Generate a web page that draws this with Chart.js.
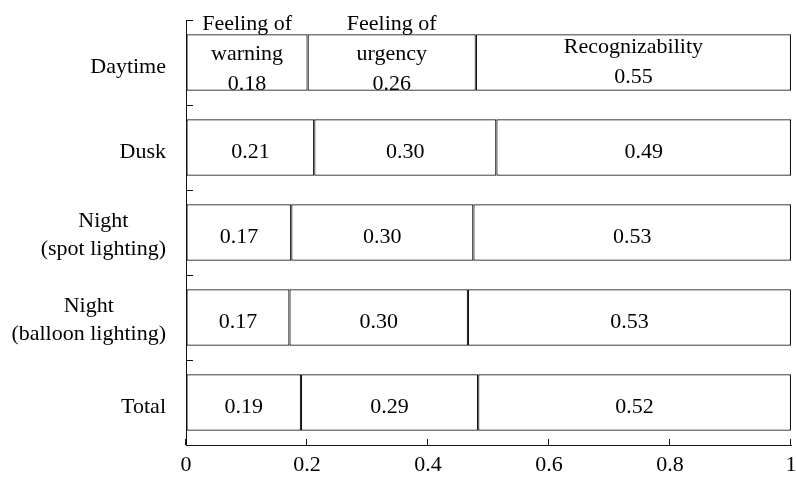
<!DOCTYPE html>
<html>
<head>
<meta charset="utf-8">
<script src="https://cdn.jsdelivr.net/npm/chart.js@4.4.1/dist/chart.umd.min.js"></script>
<style>
  html, body { margin: 0; padding: 0; background: #fff; }
  canvas { display: block; }
</style>
</head>
<body>
<canvas id="chart" width="796" height="489"></canvas>
<script>
// ---- data ----
const categories = [["Daytime"], ["Dusk"], ["Night", "(spot lighting)"], ["Night", "(balloon lighting)"], ["Total"]];
const seriesNames = [["Feeling of", "warning"], ["Feeling of", "urgency"], ["Recognizability"]];

// bar lengths as drawn
const warningVals = [0.201, 0.212, 0.174, 0.171, 0.190];
const urgencyVals = [0.278, 0.301, 0.301, 0.295, 0.293];
const recogVals   = [0.521, 0.487, 0.525, 0.534, 0.517];

// numbers printed inside the bars
const warningText = ["0.18", "0.21", "0.17", "0.17", "0.19"];
const urgencyText = ["0.26", "0.30", "0.30", "0.30", "0.29"];
const recogText   = ["0.55", "0.49", "0.53", "0.53", "0.52"];

const xTicks = [0, 0.2, 0.4, 0.6, 0.8, 1];

const FONT = '"Liberation Serif", "Times New Roman", serif';
const INK = '#111';

// ---- extra drawing: inward ticks, category labels, bar labels ----
const marksPlugin = {
  id: 'marks',
  afterDraw(chart) {
    const ctx = chart.ctx;
    const xs = chart.scales.x, ys = chart.scales.y;
    const area = chart.chartArea;
    ctx.save();

    // tick marks pointing into the plot
    ctx.strokeStyle = INK;
    ctx.lineWidth = 1;
    ctx.beginPath();
    xs.ticks.forEach((t, i) => {
      const px = Math.round(xs.getPixelForTick(i)) - 0.5;
      ctx.moveTo(px, area.bottom);
      ctx.lineTo(px, area.bottom - 6);
    });
    for (let i = 0; i <= categories.length; i++) {
      const py = Math.round(ys.getPixelForValue(i - 0.5)) + 0.5;
      ctx.moveTo(area.left, py);
      ctx.lineTo(area.left + 7, py);
    }
    ctx.stroke();

    ctx.fillStyle = '#000';
    ctx.font = '22px ' + FONT;
    ctx.textAlign = 'center';
    ctx.textBaseline = 'alphabetic';

    // category labels: block right-aligned, lines centred
    categories.forEach((lines, i) => {
      const cy = ys.getPixelForValue(i);
      const w = Math.max(...lines.map(l => ctx.measureText(l).width));
      const cx = area.left - 20 - w / 2;
      const last = cy + (lines.length > 1 ? 22.5 : 10.4);
      lines.forEach((l, j) => ctx.fillText(l, cx, last - (lines.length - 1 - j) * 28));
    });

    // labels in the bars (first row also carries the series names)
    chart.data.datasets.forEach((ds, di) => {
      chart.getDatasetMeta(di).data.forEach((bar, i) => {
        const lines = i === 0 ? seriesNames[di].concat(ds.valueText[i]) : [ds.valueText[i]];
        const cx = (bar.x + bar.base) / 2;
        const off = lines.length === 3 ? 27 : lines.length === 2 ? 20.5 : 10;
        const last = bar.y + off;
        lines.forEach((l, j) => ctx.fillText(l, cx, last - (lines.length - 1 - j) * 30));
      });
    });

    ctx.restore();
  }
};

function makeSet(label, data, text) {
  return {
    label: label,
    data: data,
    valueText: text,
    backgroundColor: '#fff',
    borderColor: INK,
    borderWidth: 1.2,
    borderSkipped: false,
    barPercentage: 0.666,
    categoryPercentage: 1
  };
}

new Chart(document.getElementById('chart'), {
  type: 'bar',
  data: {
    labels: categories.map(c => c.join(' ')),
    datasets: [
      makeSet('Feeling of warning', warningVals, warningText),
      makeSet('Feeling of urgency', urgencyVals, urgencyText),
      makeSet('Recognizability', recogVals, recogText)
    ]
  },
  options: {
    indexAxis: 'y',
    responsive: false,
    animation: false,
    devicePixelRatio: 1,
    layout: { padding: { top: 20, right: 5, left: 0, bottom: 0 } },
    plugins: { legend: { display: false }, tooltip: { enabled: false } },
    scales: {
      x: {
        type: 'linear', stacked: true, min: 0, max: 1,
        afterBuildTicks: s => { s.ticks = xTicks.map(v => ({ value: v })); },
        afterFit: s => { s.height = 44; s.paddingLeft = 0; s.paddingRight = 0; },
        grid: { display: true, drawOnChartArea: false, drawTicks: false },
        border: { display: true, color: INK, width: 1 },
        ticks: { color: '#000', font: { family: FONT, size: 22 }, padding: 7, maxRotation: 0,
                 callback: v => String(v) }
      },
      y: {
        type: 'category', stacked: true,
        afterFit: s => { s.width = 186; },
        grid: { display: true, drawOnChartArea: false, drawTicks: false },
        border: { display: true, color: INK, width: 1 },
        ticks: { display: false }
      }
    }
  },
  plugins: [marksPlugin]
});
</script>
</body>
</html>
